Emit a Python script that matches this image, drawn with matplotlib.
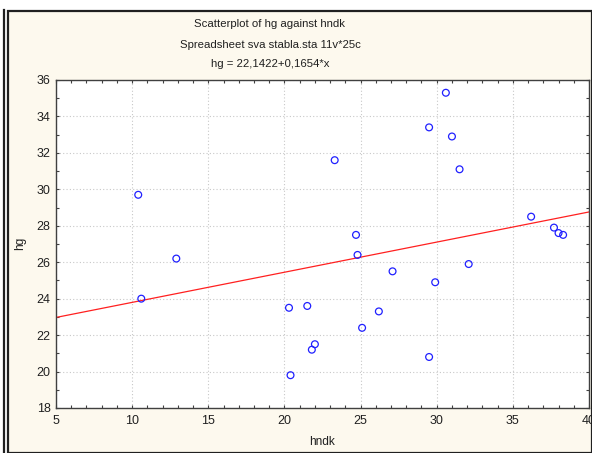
import matplotlib
matplotlib.use("Agg")
import matplotlib.pyplot as plt
from matplotlib.ticker import MultipleLocator
from matplotlib.patches import Rectangle
from matplotlib.lines import Line2D
import numpy as np

plt.rcParams['font.family'] = ['Liberation Sans', 'DejaVu Sans']

hndk = [10.4, 12.9, 30.6, 29.5, 31.0, 23.3, 31.5, 36.2, 37.7, 38.0, 38.3, 24.7, 24.8,
        32.1, 27.1, 10.6, 20.3, 21.5, 22.0, 21.8, 20.4, 29.9, 26.2, 25.1, 29.5]
hg = [29.7, 26.2, 35.3, 33.4, 32.9, 31.6, 31.1, 28.5, 27.9, 27.6, 27.5, 27.5, 26.4,
      25.9, 25.5, 24.0, 23.5, 23.6, 21.5, 21.2, 19.8, 24.9, 23.3, 22.4, 20.8]
intercept = 22.1422
slope = 0.1654

W, H = 592, 453
FS = 8.2
TFS = 9.0
fig = plt.figure(figsize=(W / 100, H / 100), dpi=100)
fig.patch.set_facecolor('white')

def fx(p):
    return p / W

def fy(p):
    return 1 - p / H

# cream panel with dark frame
panel = Rectangle((fx(8), 0), 1 - fx(8), fy(10.5), transform=fig.transFigure,
                  facecolor='#fdf9ee', edgecolor='#202020', linewidth=1.6, zorder=-10)
fig.patches.append(panel)
fig.lines.append(Line2D([fx(3.5), fx(3.5)], [0, fy(10)], transform=fig.transFigure,
                        color='#202020', linewidth=1.6, zorder=-10))

ax = fig.add_axes([fx(56), fy(408), fx(589) - fx(56), fy(80) - fy(408)])
ax.set_zorder(5)
ax.set_facecolor('white')
ax.set_xlim(5, 40)
ax.set_ylim(18, 36)
ax.xaxis.set_major_locator(MultipleLocator(5))
ax.xaxis.set_minor_locator(MultipleLocator(1))
ax.yaxis.set_major_locator(MultipleLocator(2))
ax.yaxis.set_minor_locator(MultipleLocator(1))
ax.tick_params(which='both', direction='in', top=True, right=True, length=2.5,
               width=0.8, color='#404040', labelsize=TFS, labelcolor='#202020')
ax.tick_params(axis='x', pad=5)
ax.tick_params(axis='y', pad=4)
for s in ax.spines.values():
    s.set_color('#404040')
    s.set_linewidth(1.0)
ax.grid(True, which='major', linestyle=(0, (1, 2)), color='#c8c8c8', linewidth=0.8)
ax.set_axisbelow(True)

xs = np.array([5, 40])
ax.plot(xs, intercept + slope * xs, color='#ff2020', linewidth=0.9, zorder=2)
ax.scatter(hndk, hg, s=24, facecolors='none', edgecolors='#2020ff', linewidths=0.9, zorder=3)

fig.text(fx(20), fy(243), 'hg', rotation=90, ha='center', va='center', fontsize=8.6, color='#202020')
fig.text(fx(322), fy(442), 'hndk', ha='center', va='center', fontsize=8.6, color='#202020')
fig.text(fx(270), fy(24), 'Scatterplot of hg against hndk', ha='center', va='center', fontsize=FS, color='#202020')
fig.text(fx(270), fy(45), 'Spreadsheet sva stabla.sta 11v*25c', ha='center', va='center', fontsize=FS, color='#202020')
fig.text(fx(270), fy(64), 'hg = 22,1422+0,1654*x', ha='center', va='center', fontsize=FS, color='#202020')

fig.savefig('out.png', dpi=100, facecolor=fig.get_facecolor())
